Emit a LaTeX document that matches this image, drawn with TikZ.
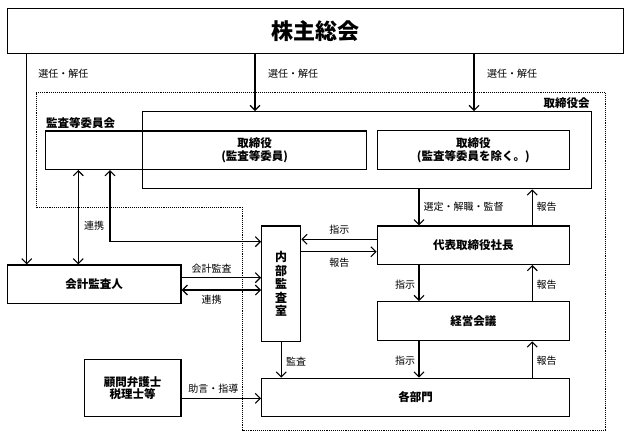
\documentclass[tikz,border=0pt]{standalone}
\usepackage{fontspec}
\setmainfont{Noto Sans CJK JP}
\usetikzlibrary{arrows.meta}
\begin{document}
\begin{tikzpicture}[x=1pt,y=-1pt,
  box/.style={draw,line width=1.3pt,inner sep=0pt,align=center,font=\bfseries\fontsize{11.5}{13.2}\selectfont},
  lbl/.style={inner sep=0pt,font=\fontsize{10}{12}\selectfont},
  ttl/.style={inner sep=0pt,font=\bfseries\fontsize{11.5}{13}\selectfont},
  arr/.style={line width=1.1pt,-{Straight Barb[length=5pt,width=10pt]}},
  darr/.style={line width=1.1pt,{Straight Barb[length=5pt,width=10pt]}-{Straight Barb[length=5pt,width=10pt]}},
  dots/.style={densely dotted,line width=0.9pt}]
\useasboundingbox (0,0) rectangle (630,437);
\fill[white] (0,0) rectangle (630,437);

% dotted board region
\draw[dots] (36,92) -- (605,92) -- (605,430) -- (242.7,430) -- (242.7,207.3) -- (36,207.3) -- cycle;

% boxes
\node[box,minimum width=616pt,minimum height=45pt,font=\bfseries\fontsize{22}{24}\selectfont] (soukai) at (315.3,30.8) {株主総会};
\node[box,minimum width=449pt,minimum height=77pt] (torikai) at (367.2,150.2) {};
\node[box,minimum width=321pt,minimum height=38.3pt] (kansa) at (206.2,150.2) {};
\node[box,draw=none] (tori1) at (254.7,150) {取締役\\(監査等委員)};
\node[box,minimum width=192pt,minimum height=38.6pt] (tori2) at (473.3,150) {取締役\\(監査等委員を除く。)};
\node[box,minimum width=192pt,minimum height=38.3pt] (daihyo) at (473.3,245.2) {代表取締役社長};
\node[box,minimum width=192pt,minimum height=39pt] (keiei) at (473.3,321.2) {経営会議};
\node[box,minimum width=307.6pt,minimum height=38.4pt] (kakubu) at (415.5,397.5) {各部門};
\node[box,minimum width=39pt,minimum height=115.7pt,font=\bfseries\fontsize{12}{13.4}\selectfont] (naibu) at (281.2,283.9) {内\\部\\監\\査\\室};
\node[box,minimum width=173.7pt,minimum height=38.3pt] (kaikei) at (94.2,284.2) {会計監査人};
\node[box,minimum width=96.7pt,minimum height=57.4pt,font=\bfseries\fontsize{11.5}{12.7}\selectfont] (komon) at (132.7,388) {顧問弁護士\\税理士等};

% group titles
\node[ttl,anchor=west] (tKansa) at (46,123.3) {監査等委員会};
\node[ttl] (tTori) at (566.7,103.3) {取締役会};

% helper coordinates
\coordinate (xA) at (26.7,0);
\coordinate (xB) at (255,0);
\coordinate (xC) at (474,0);
\coordinate (xD) at (78.3,0);
\coordinate (xE) at (110,0);
\coordinate (xF) at (419,0);
\coordinate (xG) at (532.3,0);
\coordinate (yA) at (0,241.7);
\coordinate (yB) at (0,277.7);
\coordinate (yC) at (0,290);
\coordinate (yD) at (0,398.3);
\coordinate (yE) at (0,239.3);
\coordinate (yF) at (0,251.7);

% shareholders' meeting arrows
\draw[arr] (soukai.south -| xA) -- (kaikei.north -| xA);
\draw[arr] (soukai.south -| xB) -- (torikai.north -| xB);
\draw[arr] (soukai.south -| xC) -- (torikai.north -| xC);
\node[lbl] (l1) at (63.3,73.3) {選任・解任};
\node[lbl,anchor=west] (l2) at (268,73.3) {選任・解任};
\node[lbl,anchor=west] (l3) at (487,73.3) {選任・解任};

% audit committee links
\draw[darr] (kansa.south -| xD) -- (kaikei.north -| xD);
\node[lbl] (l4) at (94,226) {連携};
\draw[darr] (kansa.south -| xE) |- (naibu.west |- yA);

% accounting auditor
\draw[arr] (kaikei.east |- yB) -- (naibu.west |- yB);
\node[lbl] (l5) at (211.7,268.3) {会計監査};
\draw[darr] (kaikei.east |- yC) -- (naibu.west |- yC);
\node[lbl] (l6) at (211.7,300) {連携};

% internal audit
\draw[arr] (naibu.south) -- (naibu.south |- kakubu.north);
\node[lbl] (l7) at (296,361.7) {監査};
\draw[arr] (daihyo.west |- yE) -- (naibu.east |- yE);
\node[lbl] (l8) at (339.3,230) {指示};
\draw[arr] (naibu.east |- yF) -- (daihyo.west |- yF);
\node[lbl] (l9) at (339.3,262.3) {報告};

% advisors
\draw[arr] (komon.east |- yD) -- (kakubu.west |- yD);
\node[lbl] (l10) at (213.3,388.3) {助言・指導};

% management chain
\draw[arr] (torikai.south -| xF) -- (daihyo.north -| xF);
\node[lbl,anchor=west] (l11) at (423.3,206.7) {選定・解職・監督};
\draw[arr] (daihyo.north -| xG) -- (torikai.south -| xG);
\node[lbl] (l12) at (546.7,206.7) {報告};
\draw[arr] (daihyo.south -| xF) -- (keiei.north -| xF);
\node[lbl] (l13) at (405,285) {指示};
\draw[arr] (keiei.north -| xG) -- (daihyo.south -| xG);
\node[lbl] (l14) at (546.7,285) {報告};
\draw[arr] (keiei.south -| xF) -- (kakubu.north -| xF);
\node[lbl] (l15) at (405,360.7) {指示};
\draw[arr] (kakubu.north -| xG) -- (keiei.south -| xG);
\node[lbl] (l16) at (546.7,360.7) {報告};
\end{tikzpicture}
\end{document}
